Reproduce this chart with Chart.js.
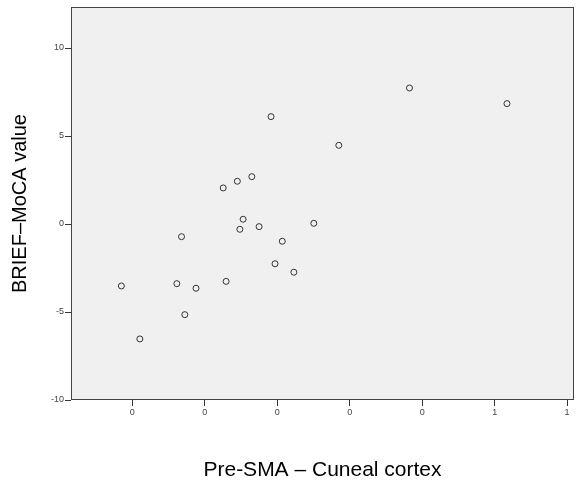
<!DOCTYPE html>
<html>
<head>
<meta charset="utf-8">
<script src="https://cdn.jsdelivr.net/npm/chart.js@4.4.1/dist/chart.umd.min.js"></script>
<style>
  html, body { margin: 0; padding: 0; background: #fff; }
  #wrap { width: 584px; height: 483px; }
</style>
</head>
<body>
<div id="wrap"><canvas id="scatter"></canvas></div>
<script>
// values
const preSmaCuneal = [-0.017, 0.170, -0.070, -0.110, -0.149, -0.094, -0.103, -0.050, 0.101, -0.264,
                      0.014, -0.006, 0.046, -0.430, -0.277, -0.224, -0.141, -0.255, -0.379, 0.365, 0.634];
const briefMoca    = [6.10, 4.47, 2.69, 2.43, 2.05, 0.27, -0.30, -0.15, 0.04, -0.72,
                      -0.98, -2.26, -2.74, -3.52, -3.39, -3.65, -3.26, -5.15, -6.53, 7.73, 6.84];
const xTicks = [-0.4, -0.2, 0, 0.2, 0.4, 0.6, 0.8];
const yTicks = [-10, -5, 0, 5, 10];

const points = preSmaCuneal.map((x, i) => ({ x: x, y: briefMoca[i] }));

// grey plot background + frame like SPSS
const plotFrame = {
    id: 'plotFrame',
    beforeDraw(chart) {
        const { ctx, chartArea: a } = chart;
        ctx.save();
        ctx.fillStyle = '#f0f0f0';
        ctx.fillRect(a.left, a.top, a.right - a.left, a.bottom - a.top);
        ctx.restore();
    },
    afterDraw(chart) {
        const { ctx, chartArea: a } = chart;
        ctx.save();
        ctx.strokeStyle = '#444';
        ctx.lineWidth = 1;
        ctx.strokeRect(a.left + 0.5, a.top + 0.5, a.right - a.left - 1, a.bottom - a.top - 1);
        ctx.restore();
    }
};

new Chart(document.getElementById('scatter'), {
    type: 'scatter',
    data: {
        datasets: [{
            data: points,
            pointRadius: 3,
            pointBorderWidth: 1,
            pointBorderColor: '#333',
            pointBackgroundColor: 'rgba(0,0,0,0)'
        }]
    },
    options: {
        responsive: true,
        maintainAspectRatio: false,
        animation: false,
        layout: { padding: { top: 7, right: 10, left: 0, bottom: 0 } },
        plugins: {
            legend: { display: false },
            tooltip: { enabled: false }
        },
        scales: {
            x: {
                type: 'linear',
                min: -0.569,
                max: 0.819,
                afterBuildTicks: s => { s.ticks = xTicks.map(v => ({ value: v })); },
                afterFit: s => { s.height = 83; },
                grid: { drawOnChartArea: false, tickLength: 6, color: '#333' },
                border: { display: false },
                ticks: {
                    padding: 1,
                    color: '#444',
                    font: { family: 'Arial, "Liberation Sans"', size: 9 },
                    callback: v => String(Math.round(v))
                },
                title: {
                    display: true,
                    text: 'Pre-SMA – Cuneal cortex',
                    color: '#000',
                    font: { family: 'Arial, "Liberation Sans"', size: 21 },
                    padding: { top: 0, bottom: 0 }
                }
            },
            y: {
                type: 'linear',
                min: -10,
                max: 12.33,
                afterBuildTicks: s => { s.ticks = yTicks.map(v => ({ value: v })); },
                afterFit: s => { s.width = 71; },
                grid: { drawOnChartArea: false, tickLength: 6, color: '#333' },
                border: { display: false },
                ticks: {
                    padding: 1,
                    color: '#444',
                    font: { family: 'Arial, "Liberation Sans"', size: 9 }
                },
                title: {
                    display: true,
                    text: 'BRIEF–MoCA value',
                    color: '#000',
                    font: { family: 'Arial, "Liberation Sans"', size: 20 },
                    padding: { top: 8, bottom: 0 }
                }
            }
        }
    },
    plugins: [plotFrame]
});
</script>
</body>
</html>
